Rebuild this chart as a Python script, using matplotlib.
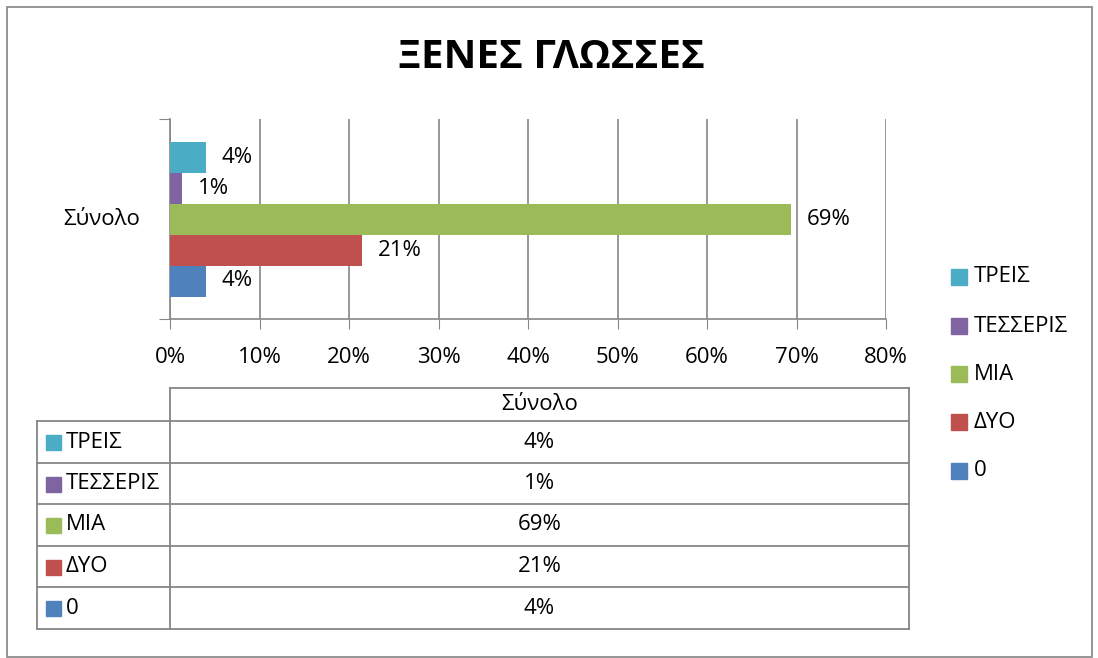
import matplotlib
matplotlib.use('Agg')
import matplotlib.pyplot as plt
from matplotlib.patches import Rectangle
import numpy as np

plt.rcParams['font.family'] = ['Open Sans', 'DejaVu Sans']

# series in drawing order, bottom to top
series = ['0', 'ΔΥΟ', 'ΜΙΑ', 'ΤΕΣΣΕΡΙΣ', 'ΤΡΕΙΣ']
values = [0.040, 0.214, 0.694, 0.013, 0.040]
labels = ['4%', '21%', '69%', '1%', '4%']
colors = ['#4f81bd', '#c0504d', '#9bbb59', '#8064a2', '#4bacc6']
category = 'Σύνολο'
xticks = [0, 0.1, 0.2, 0.3, 0.4, 0.5, 0.6, 0.7, 0.8]
title = 'ΞΕΝΕΣ ΓΛΩΣΣΕΣ'

W, H = 1098, 658
fig = plt.figure(figsize=(W / 100, H / 100), dpi=100)
fig.patch.set_facecolor('white')

grey = '#868686'
fs = 16

# main bar axes, placed in pixel units
x0, x1, y0, y1 = 170, 886, 119, 319
ax = fig.add_axes([x0 / W, 1 - y1 / H, (x1 - x0) / W, (y1 - y0) / H])
bar_h = 0.155
offsets = (np.arange(len(series)) - (len(series) - 1) / 2) * bar_h
for i in range(len(series)):
    ax.barh(offsets[i], values[i], height=bar_h, color=colors[i], zorder=3)
    ax.text(values[i] + 0.018, offsets[i], labels[i], va='center', ha='left',
            fontsize=fs, zorder=4)

ax.set_xlim(0, 0.8)
ax.set_ylim(-0.5, 0.5)
ax.set_xticks(xticks)
ax.set_xticklabels(['%d%%' % round(t * 100) for t in xticks], fontsize=fs)
ax.set_yticks([-0.5, 0.5])
ax.set_yticklabels([])
ax.tick_params(axis='x', length=7, color=grey, pad=13)
ax.tick_params(axis='y', length=8, color=grey)
ax.grid(axis='x', color=grey, linewidth=1.2, zorder=0)
for s in ['top', 'right']:
    ax.spines[s].set_visible(False)
ax.spines['left'].set_color(grey)
ax.spines['bottom'].set_color(grey)
ax.spines['left'].set_linewidth(1.2)
ax.spines['bottom'].set_linewidth(1.2)
ax.text(-0.033, 0, category, transform=ax.transData, ha='right', va='center', fontsize=fs)

# overlay in pixel coordinates for frame, title, legend and data table
ov = fig.add_axes([0, 0, 1, 1])
ov.set_xlim(0, W)
ov.set_ylim(H, 0)
ov.axis('off')
ov.patch.set_alpha(0)

ov.add_patch(Rectangle((7, 7), 1085, 650, fill=False, edgecolor='#8c8c8c', linewidth=1.3))
ov.text(551, 58, title, ha='center', va='center', fontsize=29, fontweight='bold')

# legend (top to bottom: reverse of drawing order)
leg_y = [277, 326, 374, 422, 471]
for k, i in enumerate(range(len(series) - 1, -1, -1)):
    ov.add_patch(Rectangle((951, leg_y[k] - 8), 16, 16, color=colors[i]))
    ov.text(974, leg_y[k], series[i], ha='left', va='center', fontsize=fs)

# data table
tl, tc, tr = 37, 170, 909
top, hdr = 388, 421
rows = [421, 463, 504, 546, 587, 629]
lc = dict(color=grey, linewidth=1.3)
ov.plot([tc, tr], [top, top], **lc)
ov.plot([tc, tc], [top, rows[-1]], **lc)
ov.plot([tr, tr], [top, rows[-1]], **lc)
ov.plot([tl, tr], [hdr, hdr], **lc)
ov.plot([tl, tl], [hdr, rows[-1]], **lc)
for r in rows[1:]:
    ov.plot([tl, tr], [r, r], **lc)
ov.text((tc + tr) / 2, (top + hdr) / 2, category, ha='center', va='center', fontsize=fs)
for k, i in enumerate(range(len(series) - 1, -1, -1)):
    cy = (rows[k] + rows[k + 1]) / 2
    ov.add_patch(Rectangle((46, cy - 7), 15, 15, color=colors[i]))
    ov.text(66, cy, series[i], ha='left', va='center', fontsize=fs)
    ov.text((tc + tr) / 2, cy, labels[i], ha='center', va='center', fontsize=fs)

fig.savefig('out.png', dpi=100)
